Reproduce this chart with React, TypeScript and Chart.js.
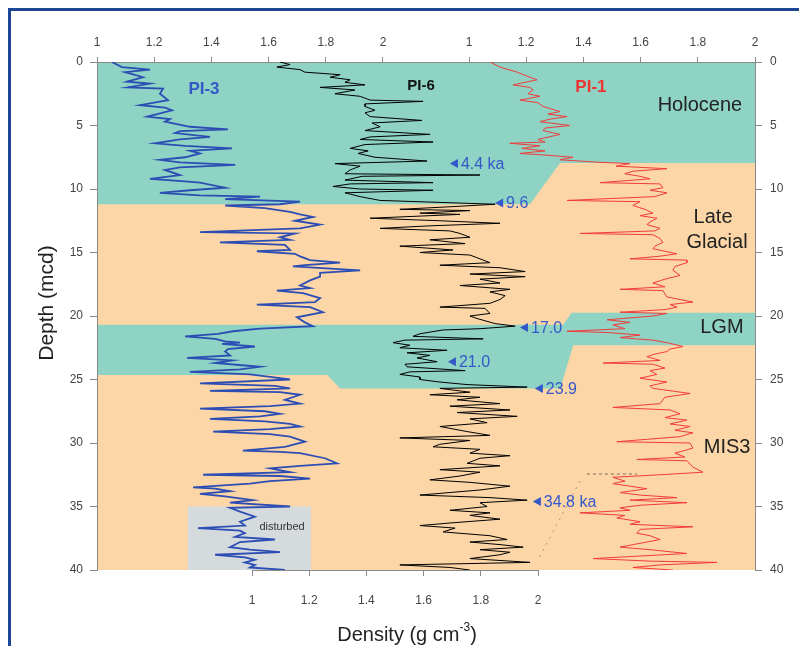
import React, { useEffect, useRef } from "react";
import { Chart, registerables } from "chart.js";

Chart.register(...registerables);

// ---- Data: [depth (mcd), density (g cm-3)] ----
const pi3: [number, number][] = [
  [0,1.052],[0.4,1.087],[0.6,1.185],[0.8,1.098],[1.2,1.161],[1.55,1.105],[1.7,1.185],[2.0,1.108],[2.1,1.231],[2.5,1.220],
  [3.0,1.248],[3.4,1.150],[3.6,1.238],[3.8,1.262],[4.3,1.175],[4.5,1.255],[4.7,1.238],[5.1,1.325],[5.3,1.458],[5.45,1.290],
  [5.6,1.273],[5.9,1.395],[6.1,1.290],[6.4,1.203],[6.6,1.308],[6.8,1.472],[7.0,1.325],[7.2,1.360],[7.5,1.308],[7.7,1.220],
  [7.9,1.290],[8.1,1.483],[8.3,1.290],[8.5,1.238],[8.9,1.290],[9.2,1.185],[9.4,1.308],[9.5,1.360],[9.9,1.448],[10.1,1.325],
  [10.3,1.220],[10.5,1.360],[10.6,1.570],[10.8,1.448],[11.0,1.710],[11.2,1.640],[11.3,1.448],[11.5,1.587],[11.8,1.675],[12.0,1.710],
  [12.2,1.755],[12.5,1.692],[12.8,1.780],[13.1,1.710],[13.4,1.360],[13.5,1.692],[13.8,1.640],[14.0,1.675],[14.2,1.430],[14.4,1.657],
  [14.8,1.675],[14.9,1.559],[15.1,1.692],[15.3,1.710],[15.6,1.745],[15.8,1.850],[16.0,1.727],[16.1,1.685],[16.4,1.920],[16.6,1.780],
  [16.9,1.780],[17.2,1.745],[17.6,1.710],[17.8,1.745],[18.0,1.629],[18.2,1.720],[18.6,1.780],[18.9,1.762],[19.1,1.559],[19.3,1.745],
  [19.7,1.790],[20.1,1.699],[20.5,1.727],[20.8,1.755],[21.0,1.570],[21.2,1.476],[21.4,1.423],[21.6,1.308],[21.8,1.413],[22.0,1.448],
  [22.1,1.500],[22.2,1.437],[22.4,1.552],[22.6,1.458],[22.8,1.448],[23.1,1.465],[23.3,1.315],[23.5,1.472],[23.7,1.413],[24.0,1.570],
  [24.2,1.500],[24.4,1.325],[24.6,1.535],[24.8,1.605],[25.0,1.675],[25.3,1.360],[25.5,1.622],[25.7,1.675],[25.9,1.395],[26.0,1.640],
  [26.2,1.710],[26.6,1.657],[26.9,1.710],[27.1,1.605],[27.3,1.360],[27.5,1.587],[27.7,1.640],[27.9,1.570],[28.1,1.395],[28.3,1.587],
  [28.5,1.675],[28.7,1.710],[28.9,1.605],[29.1,1.406],[29.3,1.605],[29.5,1.675],[29.9,1.727],[30.3,1.657],[30.6,1.510],[30.7,1.640],
  [30.8,1.710],[31.2,1.797],[31.6,1.839],[31.8,1.710],[32.0,1.605],[32.3,1.675],[32.5,1.371],[32.6,1.640],[32.8,1.745],[33.0,1.605],
  [33.2,1.535],[33.5,1.336],[33.6,1.413],[33.8,1.465],[34.0,1.360],[34.2,1.448],[34.5,1.545],[34.7,1.465],[35.0,1.675],[35.1,1.465],
  [35.4,1.500],[35.8,1.552],[36.2,1.500],[36.5,1.517],[36.7,1.353],[36.9,1.500],[37.1,1.517],[37.4,1.483],[37.6,1.622],[37.8,1.500],
  [38.2,1.465],[38.4,1.535],[38.6,1.640],[38.8,1.413],[39.0,1.517],[39.2,1.552],[39.4,1.517],[39.6,1.552],[39.8,1.535],[40,1.657],
];

const pi6: [number, number][] = [
  [0,1.098],[0.2,1.133],[0.4,1.087],[0.6,1.168],[0.8,1.185],[1.0,1.308],[1.2,1.273],[1.4,1.343],[1.6,1.325],[1.8,1.395],
  [2.0,1.238],[2.2,1.360],[2.5,1.290],[2.7,1.378],[3.0,1.413],[3.1,1.598],[3.3,1.395],[3.5,1.395],[3.8,1.430],[4.0,1.395],
  [4.3,1.413],[4.6,1.594],[4.8,1.420],[5.1,1.448],[5.4,1.395],[5.7,1.622],[5.9,1.413],[6.1,1.378],[6.3,1.633],[6.5,1.395],
  [6.8,1.343],[7.0,1.406],[7.2,1.371],[7.5,1.430],[7.8,1.612],[8.0,1.290],[8.2,1.378],[8.5,1.343],[8.8,1.325],[8.9,1.797],
  [9.0,1.385],[9.3,1.325],[9.5,1.633],[9.6,1.343],[9.8,1.283],[10.0,1.378],[10.1,1.633],[10.3,1.325],[10.6,1.378],[10.9,1.448],
  [11.2,1.850],[11.4,1.692],[11.6,1.517],[11.7,1.762],[11.9,1.587],[12.0,1.727],[12.3,1.413],[12.5,1.657],[12.7,1.867],[12.9,1.622],
  [13.1,1.448],[13.3,1.692],[13.5,1.727],[13.8,1.762],[14.0,1.622],[14.3,1.745],[14.5,1.517],[14.8,1.703],[15.0,1.587],[15.2,1.762],
  [15.5,1.797],[15.8,1.832],[16.0,1.657],[16.2,1.867],[16.5,1.955],[16.7,1.762],[16.9,1.955],[17.1,1.797],[17.4,1.867],[17.6,1.727],
  [17.9,1.902],[18.1,1.832],[18.4,1.885],[18.7,1.867],[19.0,1.832],[19.3,1.657],[19.4,1.815],[19.8,1.832],[20.0,1.762],[20.2,1.787],
  [20.6,1.850],[20.8,1.920],[21.0,1.797],[21.1,1.668],[21.4,1.587],[21.6,1.563],[21.8,1.808],[21.9,1.535],[22.1,1.493],[22.3,1.552],
  [22.5,1.517],[22.7,1.682],[22.9,1.542],[23.1,1.622],[23.3,1.577],[23.6,1.647],[23.8,1.535],[24.0,1.542],[24.3,1.745],[24.4,1.552],
  [24.6,1.517],[24.8,1.587],[25.0,1.587],[25.2,1.657],[25.4,1.752],[25.6,1.962],[25.7,1.657],[26.0,1.762],[26.2,1.622],[26.4,1.797],
  [26.6,1.717],[26.9,1.867],[27.1,1.692],[27.4,1.902],[27.6,1.717],[27.9,1.927],[28.1,1.762],[28.4,1.822],[28.7,1.657],[29.1,1.752],
  [29.4,1.832],[29.6,1.517],[29.8,1.762],[30.1,1.657],[30.3,1.633],[30.5,1.797],[30.8,1.762],[31.0,1.902],[31.2,1.797],[31.6,1.752],
  [31.8,1.867],[32.1,1.657],[32.3,1.797],[32.6,1.727],[32.9,1.622],[33.1,1.762],[33.4,1.902],[33.7,1.797],[34.1,1.587],[34.3,1.832],
  [34.5,1.962],[34.7,1.797],[35.0,1.822],[35.3,1.692],[35.5,1.832],[35.7,1.762],[36.0,1.867],[36.3,1.692],[36.5,1.587],[36.7,1.710],
  [37.0,1.668],[37.3,1.832],[37.6,1.892],[37.8,1.762],[38.0,1.867],[38.2,1.948],[38.4,1.797],[38.6,1.902],[38.8,1.867],[39.1,1.762],
  [39.4,1.972],[39.6,1.517],[39.8,1.692],[40,1.762],
];

const pi1: [number, number][] = [
  [0,1.073],[0.4,1.108],[0.8,1.168],[1.2,1.213],[1.4,1.238],[1.6,1.196],[1.8,1.154],[2.0,1.213],[2.2,1.224],[2.5,1.206],
  [2.7,1.248],[3.0,1.178],[3.2,1.241],[3.5,1.259],[3.9,1.318],[4.1,1.276],[4.3,1.343],[4.5,1.283],[4.7,1.248],[5.0,1.353],
  [5.2,1.266],[5.4,1.259],[5.7,1.318],[6.1,1.241],[6.3,1.266],[6.4,1.143],[6.6,1.248],[6.8,1.185],[7.0,1.266],[7.2,1.178],
  [7.3,1.248],[7.5,1.364],[7.7,1.318],[7.9,1.458],[8.0,1.563],[8.2,1.514],[8.4,1.692],[8.6,1.573],[8.8,1.545],[9.0,1.598],
  [9.2,1.633],[9.5,1.458],[9.6,1.668],[9.9,1.678],[10.1,1.633],[10.3,1.692],[10.6,1.650],[10.9,1.343],[11.0,1.598],[11.3,1.573],
  [11.6,1.615],[11.9,1.643],[12.1,1.598],[12.3,1.657],[12.6,1.633],[12.8,1.622],[13.1,1.668],[13.3,1.650],[13.5,1.388],[13.6,1.643],
  [13.9,1.668],[14.2,1.678],[14.5,1.650],[14.7,1.643],[15.1,1.727],[15.3,1.664],[15.5,1.563],[15.6,1.762],[15.8,1.762],[16.1,1.720],
  [16.4,1.713],[16.8,1.738],[17.1,1.685],[17.4,1.643],[17.7,1.685],[17.9,1.528],[18.0,1.678],[18.5,1.692],[18.9,1.783],[19.1,1.703],
  [19.3,1.727],[19.5,1.685],[19.7,1.528],[19.8,1.692],[20.0,1.643],[20.3,1.483],[20.5,1.563],[20.7,1.503],[21.0,1.545],[21.2,1.343],
  [21.3,1.483],[21.5,1.598],[21.7,1.528],[21.9,1.643],[22.1,1.692],[22.4,1.748],[22.6,1.703],[22.8,1.692],[23.0,1.650],[23.2,1.622],
  [23.5,1.668],[23.7,1.469],[23.8,1.643],[24.1,1.685],[24.3,1.633],[24.6,1.657],[24.9,1.598],[25.2,1.692],[25.5,1.633],[25.7,1.643],
  [26.1,1.773],[26.4,1.685],[26.9,1.668],[27.2,1.503],[27.4,1.703],[27.7,1.738],[28.0,1.685],[28.2,1.762],[28.5,1.703],[28.7,1.773],
  [29.0,1.720],[29.2,1.783],[29.5,1.738],[29.9,1.517],[30.0,1.773],[30.4,1.783],[30.8,1.720],[31.1,1.755],[31.3,1.587],[31.4,1.762],
  [31.9,1.783],[32.3,1.818],[32.5,1.668],[32.7,1.503],[33.0,1.545],[33.2,1.503],[33.4,1.563],[33.6,1.622],[33.9,1.528],[34.1,1.598],
  [34.3,1.727],[34.5,1.563],[34.7,1.762],[34.9,1.598],[35.1,1.528],[35.3,1.563],[35.5,1.388],[35.7,1.545],[35.9,1.517],[36.2,1.598],
  [36.4,1.563],[36.6,1.783],[36.8,1.598],[37.1,1.587],[37.3,1.633],[37.6,1.668],[37.9,1.598],[38.2,1.528],[38.4,1.633],[38.7,1.762],
  [38.9,1.598],[39.1,1.434],[39.3,1.633],[39.4,1.867],[39.6,1.668],[39.8,1.573],[40,1.713],
];

const densityTicks = [1, 1.2, 1.4, 1.6, 1.8, 2];

// Zones: [position on PI-3 density scale, depth]
const holoceneZone: [number, number][] = [[1,0],[3.3007,0],[3.3007,7.95],[2.619,7.95],[2.514,11.2],[1,11.2]];
const lgmZone: [number, number][] = [[1,20.68],[2.63,20.68],[2.66,19.75],[3.3007,19.75],[3.3007,22.3],[2.665,22.3],[2.62,25.7],[1.85,25.7],[1.805,24.65],[1,24.65]];
const disturbedZone: [number, number][] = [[1.318,35],[1.748,35],[1.748,40],[1.318,40]];

const zoneLabels = [
  { text: "Holocene", x: 3.108, d: 3.39 },
  { text: "Late", x: 3.154, d: 12.28 },
  { text: "Glacial", x: 3.168, d: 14.25 },
  { text: "LGM", x: 3.185, d: 20.94 },
  { text: "MIS3", x: 3.203, d: 30.39 },
];

const ageMarkers = [
  { text: "4.4 ka", x: 2.234, d: 8.0 },
  { text: "9.6", x: 2.392, d: 11.1 },
  { text: "17.0", x: 2.479, d: 20.9 },
  { text: "21.0", x: 2.227, d: 23.6 },
  { text: "23.9", x: 2.531, d: 25.7 },
  { text: "34.8 ka", x: 2.524, d: 34.6 },
];

const X_MIN = 1;
const X_MAX = 3.3007;
const PI6_SHIFT = 0.542;
const PI1_SHIFT = 1.3007;

const TEAL = "#8ed3c3";
const ORANGE = "#fcd6a7";
const GREY = "#d5dadd";
const BLUE = "#2c4db4";
const RED = "#f03c3c";
const LABEL_BLUE = "#3558c8";
const FONT = "'Liberation Sans', Arial, sans-serif";
const TICK_COLOR = "#8a8a8a";

const fmt = (v: number) => String(Math.round(v * 10) / 10);

const decorPlugin = {
  id: "decor",
  beforeDraw(chart: any) {
    const { ctx, chartArea: a } = chart;
    const sx = chart.scales.x3;
    const sy = chart.scales.y;
    ctx.save();
    ctx.fillStyle = "#ffffff";
    ctx.fillRect(0, 0, chart.width, chart.height);
    ctx.fillStyle = ORANGE;
    ctx.fillRect(a.left, a.top, a.right - a.left, a.bottom - a.top);
    const poly = (pts: [number, number][], color: string) => {
      ctx.beginPath();
      pts.forEach(([x, d], i) => {
        const px = sx.getPixelForValue(x);
        const py = sy.getPixelForValue(d);
        if (i === 0) ctx.moveTo(px, py);
        else ctx.lineTo(px, py);
      });
      ctx.closePath();
      ctx.fillStyle = color;
      ctx.fill();
    };
    poly(holoceneZone, TEAL);
    poly(lgmZone, TEAL);
    poly(disturbedZone, GREY);
    // dashed boundary
    ctx.strokeStyle = "#7d6f5c";
    ctx.lineWidth = 1;
    ctx.setLineDash([3, 3]);
    ctx.beginPath();
    ctx.moveTo(sx.getPixelForValue(2.713), sy.getPixelForValue(32.44));
    ctx.lineTo(sx.getPixelForValue(2.888), sy.getPixelForValue(32.44));
    ctx.stroke();
    ctx.strokeStyle = "#a89880";
    ctx.setLineDash([2, 5]);
    ctx.beginPath();
    ctx.moveTo(sx.getPixelForValue(2.689), sy.getPixelForValue(33.0));
    ctx.lineTo(sx.getPixelForValue(2.542), sy.getPixelForValue(39.2));
    ctx.stroke();
    ctx.setLineDash([]);
    ctx.restore();
  },
  afterDraw(chart: any) {
    const { ctx, chartArea: a } = chart;
    const sx = chart.scales.x3;
    const sy = chart.scales.y;
    const s6 = chart.scales.x6;
    ctx.save();
    // bottom axis line (1..2)
    ctx.strokeStyle = TICK_COLOR;
    ctx.lineWidth = 1;
    ctx.beginPath();
    ctx.moveTo(s6.getPixelForValue(1), Math.round(a.bottom) + 0.5);
    ctx.lineTo(s6.getPixelForValue(2), Math.round(a.bottom) + 0.5);
    ctx.stroke();

    // series labels
    ctx.textAlign = "center";
    ctx.textBaseline = "middle";
    ctx.font = `bold 17px ${FONT}`;
    ctx.fillStyle = LABEL_BLUE;
    ctx.fillText("PI-3", sx.getPixelForValue(1.374), sy.getPixelForValue(2.13));
    ctx.font = `bold 15px ${FONT}`;
    ctx.fillStyle = "#111";
    ctx.fillText("PI-6", sx.getPixelForValue(2.133), sy.getPixelForValue(1.89));
    ctx.font = `bold 17px ${FONT}`;
    ctx.fillStyle = "#ee3333";
    ctx.fillText("PI-1", sx.getPixelForValue(2.727), sy.getPixelForValue(1.97));

    // zone labels
    ctx.font = `20px ${FONT}`;
    ctx.fillStyle = "#222";
    zoneLabels.forEach((z) => ctx.fillText(z.text, sx.getPixelForValue(z.x), sy.getPixelForValue(z.d)));

    ctx.font = `11px ${FONT}`;
    ctx.fillStyle = "#333";
    ctx.fillText("disturbed", sx.getPixelForValue(1.647), sy.getPixelForValue(36.6));

    // age markers
    ctx.textAlign = "left";
    ctx.font = `16px ${FONT}`;
    ageMarkers.forEach((m) => {
      const px = sx.getPixelForValue(m.x);
      const py = sy.getPixelForValue(m.d);
      ctx.fillStyle = LABEL_BLUE;
      ctx.beginPath();
      ctx.moveTo(px, py);
      ctx.lineTo(px + 8, py - 4.5);
      ctx.lineTo(px + 8, py + 4.5);
      ctx.closePath();
      ctx.fill();
      ctx.fillText(m.text, px + 11, py + 1);
    });

    // axis titles
    ctx.fillStyle = "#222";
    ctx.save();
    ctx.translate(53, 303);
    ctx.rotate(-Math.PI / 2);
    ctx.textAlign = "center";
    ctx.textBaseline = "alphabetic";
    ctx.font = `21px ${FONT}`;
    ctx.fillText("Depth (mcd)", 0, 0);
    ctx.restore();

    ctx.textBaseline = "alphabetic";
    ctx.textAlign = "left";
    const main = "Density (g cm";
    ctx.font = `20px ${FONT}`;
    const w1 = ctx.measureText(main).width;
    ctx.font = `12px ${FONT}`;
    const w2 = ctx.measureText("-3").width;
    ctx.font = `20px ${FONT}`;
    const w3 = ctx.measureText(")").width;
    const total = w1 + w2 + w3;
    const x0 = 407 - total / 2;
    const base = 641;
    ctx.fillText(main, x0, base);
    ctx.font = `12px ${FONT}`;
    ctx.fillText("-3", x0 + w1, base - 10);
    ctx.font = `20px ${FONT}`;
    ctx.fillText(")", x0 + w1 + w2, base);

    // frame
    ctx.fillStyle = "#1e4697";
    ctx.fillRect(8, 8, chart.width - 8, 3);
    ctx.fillRect(8, 8, 3, chart.height - 8);
    ctx.restore();
  },
};

export default function App() {
  const ref = useRef<HTMLCanvasElement | null>(null);
  useEffect(() => {
    if (!ref.current) return;
    const toPts = (arr: [number, number][]) => arr.map(([d, v]) => ({ x: v, y: d }));
    const tickGrid = { drawOnChartArea: false, drawTicks: true, color: TICK_COLOR };
    const tickFont = { family: FONT, size: 12 };
    const chart = new Chart(ref.current, {
      type: "scatter",
      data: {
        datasets: [
          { label: "PI-6", data: toPts(pi6), xAxisID: "x6", yAxisID: "y", borderColor: "#000", borderWidth: 1, pointRadius: 0, showLine: true, fill: false } as any,
          { label: "PI-1", data: toPts(pi1), xAxisID: "x1", yAxisID: "y", borderColor: RED, borderWidth: 1, pointRadius: 0, showLine: true, fill: false } as any,
          { label: "PI-3", data: toPts(pi3), xAxisID: "x3", yAxisID: "y", borderColor: BLUE, borderWidth: 1.8, pointRadius: 0, showLine: true, fill: false } as any,
        ],
      },
      options: {
        animation: false,
        responsive: false,
        events: [],
        layout: { padding: 0 },
        plugins: { legend: { display: false }, tooltip: { enabled: false } },
        scales: {
          x3: {
            type: "linear",
            position: "top",
            min: X_MIN,
            max: X_MAX,
            afterBuildTicks: (s: any) => {
              s.ticks = [...densityTicks.map((v) => ({ value: v })), ...densityTicks.map((v) => ({ value: v + PI1_SHIFT }))];
            },
            afterFit: (s: any) => { s.height = 62; },
            ticks: {
              autoSkip: false,
              maxRotation: 0,
              padding: 7,
              color: "#444",
              font: tickFont,
              callback: (v: any) => fmt(Number(v) > 2.1 ? Number(v) - PI1_SHIFT : Number(v)),
            },
            grid: { ...tickGrid, tickLength: 5 },
            border: { display: true, color: TICK_COLOR },
          },
          x6: {
            type: "linear",
            position: "bottom",
            min: X_MIN - PI6_SHIFT,
            max: X_MAX - PI6_SHIFT,
            afterBuildTicks: (s: any) => { s.ticks = densityTicks.map((v) => ({ value: v })); },
            afterFit: (s: any) => { s.height = 76; },
            ticks: { autoSkip: false, maxRotation: 0, padding: 17, color: "#444", font: tickFont, callback: (v: any) => fmt(Number(v)) },
            grid: { ...tickGrid, tickLength: 6 },
            border: { display: false },
          },
          x1: {
            type: "linear",
            display: false,
            min: X_MIN - PI1_SHIFT,
            max: X_MAX - PI1_SHIFT,
          },
          y: {
            type: "linear",
            position: "left",
            reverse: true,
            min: 0,
            max: 40,
            afterFit: (s: any) => { s.width = 97; },
            ticks: { stepSize: 5, padding: 7, color: "#444", font: tickFont },
            grid: { ...tickGrid, tickLength: 7 },
            border: { display: true, color: TICK_COLOR },
          },
          y2: {
            type: "linear",
            position: "right",
            reverse: true,
            min: 0,
            max: 40,
            afterFit: (s: any) => { s.width = 44; },
            ticks: { stepSize: 5, padding: 8, color: "#444", font: tickFont },
            grid: { ...tickGrid, tickLength: 7 },
            border: { display: true, color: TICK_COLOR },
          },
        },
      } as any,
      plugins: [decorPlugin],
    });
    return () => chart.destroy();
  }, []);
  return (
    <div style={{ position: "fixed", left: 0, top: 0, width: 799, height: 646, background: "#fff" }}>
      <canvas ref={ref} width={799} height={646} style={{ width: 799, height: 646, display: "block" }} />
    </div>
  );
}
